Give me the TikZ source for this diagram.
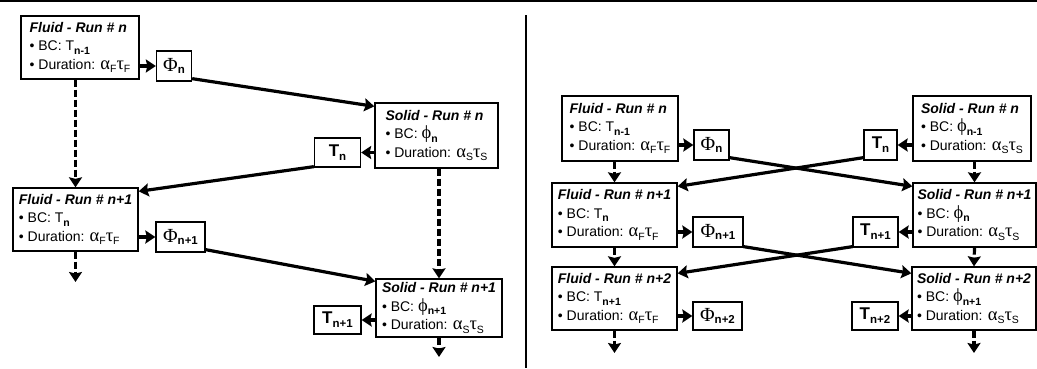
\documentclass[tikz,border=0pt]{standalone}
\usepackage{fontspec}
\setmainfont{Liberation Sans}
\newfontfamily\grk{Liberation Serif}
\usepackage{tikz}
\usetikzlibrary{arrows.meta}
\newcommand\lo[1]{\raisebox{-0.45ex}{\fontsize{10.5}{10.5}\selectfont #1}}
\newcommand\lob[1]{\lo{\bfseries #1}}
\newcommand\lobb[1]{\raisebox{-0.45ex}{\fontsize{11.5}{11.5}\selectfont\bfseries #1}}
\newcommand\gk[1]{{\grk\fontsize{18.5}{18.5}\selectfont #1}}
\newcommand\bigPhi{{\grk\fontsize{20}{20}\selectfont Φ}}
\newcommand\ttl[1]{{\bfseries\itshape #1}}

\begin{document}
\begin{tikzpicture}[x=1pt,y=-1pt]
\tikzstyle{run}=[draw, line width=1.3pt, align=left, inner xsep=4pt, inner ysep=2pt, font=\fontsize{14}{18.5}\selectfont]
\tikzstyle{val}=[draw, line width=1.3pt, minimum height=30pt, inner sep=2pt]
\tikzstyle{flow}=[line width=3.2pt, -{Stealth[length=10pt,width=13pt,inset=1.5pt]}]
\tikzstyle{next}=[flow, dash pattern=on 7pt off 3pt]
\useasboundingbox (0,0) rectangle (1037,368);
\draw [line width=2pt] (0,1) -- (1037,1);
\draw [line width=1.5pt] (526,15) -- (526,368);
\node[run, minimum width=118pt, minimum height=63pt] (fl0) at (80,47.5) {\ttl{Fluid - Run \# n}\\• BC: T\lob{n-1}\\• Duration: \gk{α}\lo{F}\gk{τ}\lo{F}};
\node[val, minimum width=35pt] (ph0) at (174,66) {\bigPhi\lobb{n}};
\node[run, minimum width=123pt, minimum height=65pt] (so0) at (436.5,135.5) {\ttl{Solid - Run \# n}\\• BC: \gk{ϕ}\lob{n}\\• Duration: \gk{α}\lo{S}\gk{τ}\lo{S}};
\node[val, minimum width=46pt, minimum height=29pt] (te0) at (337.5,152.5) {\fontsize{17}{17}\selectfont\bfseries T\lobb{n}};
\node[run, minimum width=125pt, minimum height=63pt] (fl1) at (75.5,219.5) {\ttl{Fluid - Run \# n+1}\\• BC: T\lob{n}\\• Duration: \gk{α}\lo{F}\gk{τ}\lo{F}};
\node[val, minimum width=49pt] (ph1) at (180.5,237) {\bigPhi\lobb{n+1}};
\node[run, minimum width=126pt, minimum height=58pt] (so1) at (439,308) {\ttl{Solid - Run \# n+1}\\• BC: \gk{ϕ}\lob{n+1}\\• Duration: \gk{α}\lo{S}\gk{τ}\lo{S}};
\node[val, minimum width=47pt, minimum height=28pt] (te1) at (337.5,320) {\fontsize{17}{17}\selectfont\bfseries T\lobb{n+1}};
\coordinate (fl1end) at (75.5,282);
\coordinate (so1end) at (439,357);
\draw [flow] (fl0.east |- ph0) -- (ph0);
\draw [flow] ([yshift=3pt]ph0.south east) -- ([yshift=-4pt]so0.north west);
\draw [flow] (so0.west |- te0) -- (te0);
\draw [flow] ([yshift=1pt]te0.south west) -- ([yshift=-4pt]fl1.north east);
\draw [flow] (fl1.east |- ph1) -- (ph1);
\draw [flow] ([yshift=3pt]ph1.south east) -- ([yshift=-3pt]so1.north west);
\draw [flow] (so1.west |- te1) -- (te1);
\draw [next] (fl0.south -| fl1.north) -- (fl1.north);
\draw [next] (so0.south -| so1.north) -- (so1.north);
\draw [next] (fl1.south) -- (fl1end);
\draw [next] (so1.south) -- (so1end);
\node[run, minimum width=116pt, minimum height=65pt] (rfl0) at (620,128.5) {\ttl{Fluid - Run \# n}\\• BC: T\lob{n-1}\\• Duration: \gk{α}\lo{F}\gk{τ}\lo{F}};
\node[val, minimum width=35pt] (rph0) at (711.5,145) {\bigPhi\lobb{n}};
\node[run, minimum width=118pt, minimum height=65pt] (rso0) at (972,128.5) {\ttl{Solid - Run \# n}\\• BC: \gk{ϕ}\lob{n-1}\\• Duration: \gk{α}\lo{S}\gk{τ}\lo{S}};
\node[val, minimum width=33pt] (rte0) at (880.5,145) {\fontsize{17}{17}\selectfont\bfseries T\lobb{n}};
\node[run, minimum width=125pt, minimum height=64pt] (rfl1) at (614.5,215) {\ttl{Fluid - Run \# n+1}\\• BC: T\lob{n}\\• Duration: \gk{α}\lo{F}\gk{τ}\lo{F}};
\node[val, minimum width=50pt] (rph1) at (718,232) {\bigPhi\lobb{n+1}};
\node[run, minimum width=123pt, minimum height=64pt] (rso1) at (974.5,215) {\ttl{Solid - Run \# n+1}\\• BC: \gk{ϕ}\lob{n}\\• Duration: \gk{α}\lo{S}\gk{τ}\lo{S}};
\node[val, minimum width=45pt] (rte1) at (875.5,232) {\fontsize{17}{17}\selectfont\bfseries T\lobb{n+1}};
\node[run, minimum width=125pt, minimum height=63pt] (rfl2) at (614.5,298.5) {\ttl{Fluid - Run \# n+2}\\• BC: T\lob{n+1}\\• Duration: \gk{α}\lo{F}\gk{τ}\lo{F}};
\node[val, minimum width=49pt, minimum height=28pt] (rph2) at (717.5,316) {\bigPhi\lobb{n+2}};
\node[run, minimum width=124pt, minimum height=63pt] (rso2) at (974,298.5) {\ttl{Solid - Run \# n+2}\\• BC: \gk{ϕ}\lob{n+1}\\• Duration: \gk{α}\lo{S}\gk{τ}\lo{S}};
\node[val, minimum width=46pt, minimum height=28pt] (rte2) at (875,316) {\fontsize{17}{17}\selectfont\bfseries T\lobb{n+2}};
\coordinate (rfl2end) at (614.5,353);
\coordinate (rso2end) at (974,353);
\draw [flow] (rfl0.east |- rph0) -- (rph0);
\draw [flow] (rso0.west |- rte0) -- (rte0);
\draw [flow] ([yshift=3pt]rph0.south east) -- ([yshift=-4pt]rso1.north west);
\draw [flow] ([yshift=3pt]rte0.south west) -- ([yshift=-4pt]rfl1.north east);
\draw [flow] (rfl1.east |- rph1) -- (rph1);
\draw [flow] (rso1.west |- rte1) -- (rte1);
\draw [flow] ([yshift=1pt]rph1.south east) -- ([yshift=-7pt]rso2.north west);
\draw [flow] ([yshift=1pt]rte1.south west) -- ([yshift=-7pt]rfl2.north east);
\draw [flow] (rfl2.east |- rph2) -- (rph2);
\draw [flow] (rso2.west |- rte2) -- (rte2);
\draw [next] (rfl0.south -| rfl1.north) -- (rfl1.north);
\draw [next] (rso0.south -| rso1.north) -- (rso1.north);
\draw [next] (rfl1.south) -- (rfl2.north);
\draw [next] (rso1.south) -- (rso2.north);
\draw [next] (rfl2.south) -- (rfl2end);
\draw [next] (rso2.south) -- (rso2end);
\end{tikzpicture}
\end{document}
